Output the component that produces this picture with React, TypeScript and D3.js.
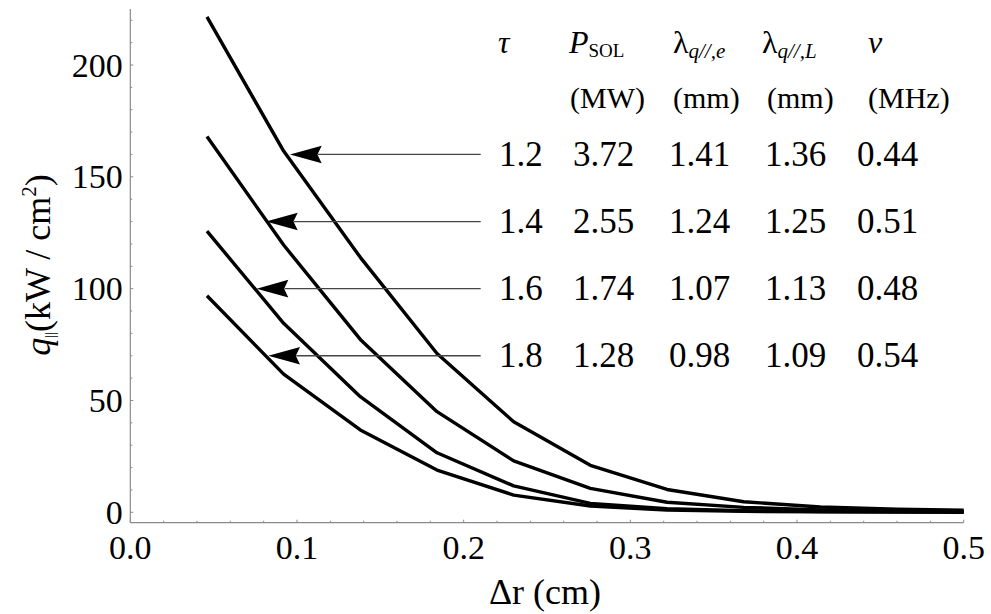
import React, { useEffect, useRef } from "react";
import * as d3 from "d3";

const xValues = [0.046, 0.092, 0.138, 0.184, 0.23, 0.276, 0.322, 0.368, 0.414, 0.46, 0.5];
const series12 = [221.5, 161.5, 114, 71, 40.5, 21, 10.2, 4.7, 2.4, 1.4, 0.9];
const series14 = [168, 119.5, 77.3, 45, 23, 10.7, 4.5, 2.2, 1.1, 0.6, 0.4];
const series16 = [125.7, 84.5, 51.7, 26.6, 11.8, 4.0, 1.6, 0.7, 0.35, 0.2, 0.15];
const series18 = [96.8, 61.8, 36.8, 18.9, 7.7, 2.8, 1.0, 0.4, 0.2, 0.1, 0.05];
const allSeries = [series12, series14, series16, series18];

// arrows: tip position (data) and row value
const arrowTipX = [0.0958, 0.0814, 0.0758, 0.0828];
const arrowY = [160, 130, 100, 70];
const arrowTailX = 0.2102;

const tauCol = ["1.2", "1.4", "1.6", "1.8"];
const psolCol = ["3.72", "2.55", "1.74", "1.28"];
const lamECol = ["1.41", "1.24", "1.07", "0.98"];
const lamLCol = ["1.36", "1.25", "1.13", "1.09"];
const nuCol = ["0.44", "0.51", "0.48", "0.54"];
const tableCols = [tauCol, psolCol, lamECol, lamLCol, nuCol];

const xMajor = [0, 0.1, 0.2, 0.3, 0.4, 0.5];
const yMajor = [0, 50, 100, 150, 200];

const W = 991;
const H = 614;
const FONT = '"Liberation Serif", "Times New Roman", Tinos';
const CSS = `
html body svg#qchart text, html body svg#qchart tspan, html body svg#qchart .t { font-family: "Liberation Serif", "Times New Roman", Tinos !important; }
body { margin: 0; }
`;

export default function App() {
  const ref = useRef<SVGSVGElement | null>(null);

  useEffect(() => {
    const svg = d3.select(ref.current);
    svg.selectAll("g.plot").remove();
    const root = svg.append("g").attr("class", "plot");

    const x = d3.scaleLinear().domain([0, 0.5]).range([130.3, 963.7]);
    const y = d3.scaleLinear().domain([0, 200]).range([512.3, 65]);
    const axisY = y(-4.65);
    const axisX = x(0);
    const axisColor = "#8a8a8a";

    root.append("rect").attr("width", W).attr("height", H).attr("fill", "#fff");

    const txt = (px: number, py: number, size: number) =>
      root
        .append("text")
        .attr("class", "t")
        .attr("x", px)
        .attr("y", py)
        .attr("font-size", size)
        .attr("font-family", FONT)
        .style("font-family", FONT, "important")
        .attr("fill", "#000");

    // axes
    root.append("line").attr("x1", axisX).attr("x2", x(0.5)).attr("y1", axisY).attr("y2", axisY).attr("stroke", axisColor).attr("stroke-width", 1.2);
    root.append("line").attr("x1", axisX).attr("x2", axisX).attr("y1", axisY).attr("y2", y(225)).attr("stroke", axisColor).attr("stroke-width", 1.2);

    const xMinor = d3.range(0, 0.5001, 0.02);
    const yMinor = d3.range(0, 220.1, 10);
    root.append("g").selectAll("line").data(xMinor).join("line")
      .attr("x1", (d) => x(d)).attr("x2", (d) => x(d))
      .attr("y1", axisY).attr("y2", (_, i) => axisY - (i % 5 === 0 ? 3 : 2))
      .attr("stroke", axisColor).attr("stroke-width", 1);
    root.append("g").selectAll("line").data(yMinor).join("line")
      .attr("y1", (d) => y(d)).attr("y2", (d) => y(d))
      .attr("x1", axisX).attr("x2", (_, i) => axisX + (i % 5 === 0 ? 3 : 2))
      .attr("stroke", axisColor).attr("stroke-width", 1);

    xMajor.forEach((t) => {
      txt(x(t), axisY + 36.5, 34).attr("text-anchor", "middle").text(t.toFixed(1));
    });
    yMajor.forEach((t) => {
      txt(axisX - 7.5, y(t) + 11.5, 34).attr("text-anchor", "end").text(String(t));
    });

    // axis labels
    txt(545, 604, 36).attr("text-anchor", "middle").text("Δr (cm)");
    const yl = txt(0, 0, 36).attr("x", null).attr("y", null)
      .attr("transform", "translate(50,265) rotate(-90)").attr("text-anchor", "middle");
    yl.append("tspan").attr("font-style", "italic").text("q");
    yl.append("tspan").attr("font-size", 14).attr("dy", 5).text("||");
    yl.append("tspan").attr("dy", -5).text("(kW / cm");
    yl.append("tspan").attr("font-size", 21).attr("dy", -14).text("2");
    yl.append("tspan").attr("dy", 14).text(")");

    // curves
    const line = d3.line<number>().x((_, i) => x(xValues[i])).y((d) => y(d));
    root.append("g").selectAll("path").data(allSeries).join("path")
      .attr("d", (d) => line(d) || "")
      .attr("fill", "none").attr("stroke", "#000").attr("stroke-width", 3.4).attr("stroke-linejoin", "round");

    // arrows
    arrowY.forEach((v, i) => {
      const ty = y(v);
      const tx = x(arrowTipX[i]);
      root.append("line").attr("x1", x(arrowTailX)).attr("x2", tx + 28).attr("y1", ty).attr("y2", ty)
        .attr("stroke", "#444").attr("stroke-width", 1.3);
      root.append("path")
        .attr("d", `M${tx},${ty} L${tx + 31.7},${ty - 8.8} L${tx + 27.5},${ty} L${tx + 31.7},${ty + 8.8} Z`)
        .attr("fill", "#000");
    });

    // table header
    txt(498, 53, 32).attr("font-style", "italic").text("τ");
    const p = txt(569, 53, 32);
    p.append("tspan").attr("font-style", "italic").text("P");
    p.append("tspan").attr("font-size", 19).attr("dy", 4).text("SOL");
    const l1 = txt(673, 53, 32);
    l1.append("tspan").text("λ");
    l1.append("tspan").attr("font-size", 21).attr("dy", 5).attr("font-style", "italic").text("q//,e");
    const l2 = txt(762, 53, 32);
    l2.append("tspan").text("λ");
    l2.append("tspan").attr("font-size", 21).attr("dy", 5).attr("font-style", "italic").text("q//,L");
    txt(868, 53, 32).attr("font-style", "italic").text("ν");
    txt(570, 108, 30).text("(MW)");
    txt(673, 108, 30).text("(mm)");
    txt(767, 108, 30).text("(mm)");
    txt(868, 108, 30).text("(MHz)");

    const colX = [499, 573, 669, 765, 857];
    arrowY.forEach((v, r) => {
      tableCols.forEach((col, c) => {
        txt(colX[c], y(v) + 11.7, 35).text(col[r]);
      });
    });
  }, []);

  return (
    <svg
      id="qchart"
      ref={ref}
      width={W}
      height={H}
      style={{ position: "fixed", left: 0, top: 0, display: "block", background: "#fff" }}
    >
      <style>{CSS}</style>
    </svg>
  );
}
